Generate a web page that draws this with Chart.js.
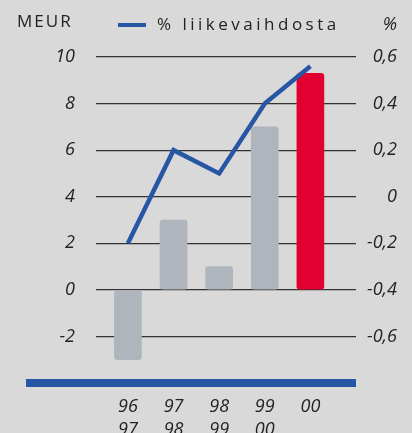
<!DOCTYPE html>
<html>
<head>
<meta charset="utf-8">
<style>
  html, body { margin: 0; padding: 0; background: #d9d9d9; }
  #wrap { width: 412px; height: 433px; }
</style>
<script src="https://cdn.jsdelivr.net/npm/chart.js@4/dist/chart.umd.min.js"></script>
</head>
<body>
<div id="wrap"><canvas id="c" width="412" height="433"></canvas></div>
<script>
// data
const periods = [['96', '97'], ['97', '98'], ['98', '99'], ['99', '00'], ['00', '']];
const profitMeur = [-3, 3, 1, 7, 9.3];
const pctOfRevenue = [-0.2, 0.2, 0.1, 0.4, 0.56];
const leftTicks = [-2, 0, 2, 4, 6, 8, 10];
const rightTicks = [-0.6, -0.4, -0.2, 0, 0.2, 0.4, 0.6];

const FONT = "'Open Sans', 'DejaVu Sans', sans-serif";
const BLUE = '#2757a4';

function fmtPct(v) {
    const r = Math.round(v * 10) / 10;
    if (r === 0) return '0';
    return r.toFixed(1).replace('.', ',');
}

const decorations = {
    id: 'decorations',
    afterDraw(chart) {
        const ctx = chart.ctx;
        const area = chart.chartArea;
        const yLeft = chart.scales.y;

        // thick blue base bar
        ctx.save();
        ctx.fillStyle = BLUE;
        ctx.fillRect(yLeft.left, area.bottom - 4, area.right - yLeft.left, 8);

        // header texts
        ctx.fillStyle = '#222';
        ctx.textBaseline = 'alphabetic';
        ctx.font = '17px ' + FONT;
        ctx.textAlign = 'left';
        ctx.letterSpacing = '2px';
        ctx.fillText('MEUR', 17, 27);

        ctx.strokeStyle = BLUE;
        ctx.lineWidth = 4;
        ctx.beginPath();
        ctx.moveTo(118, 25);
        ctx.lineTo(146, 25);
        ctx.stroke();

        ctx.letterSpacing = '3.5px';
        ctx.fillText('% liikevaihdosta', 157, 30);

        ctx.letterSpacing = '0px';
        ctx.font = 'italic 18px ' + FONT;
        ctx.textAlign = 'right';
        ctx.fillText('%', 397, 30);
        ctx.restore();
    }
};

const ctx = document.getElementById('c').getContext('2d');
new Chart(ctx, {
    data: {
        datasets: [{
            type: 'line',
            data: pctOfRevenue.map((v, i) => ({ x: i, y: v })),
            yAxisID: 'y2',
            borderColor: BLUE,
            borderWidth: 4.5,
            pointRadius: 0,
            tension: 0,
            order: 0
        }, {
            type: 'bar',
            data: profitMeur.map((v, i) => ({ x: i, y: v })),
            yAxisID: 'y',
            backgroundColor: c => c.dataIndex === profitMeur.length - 1 ? '#e10030' : '#aeb5bc',
            borderRadius: 3,
            borderSkipped: false,
            barThickness: 27,
            order: 1
        }]
    },
    options: {
        responsive: false,
        animation: false,
        layout: { padding: { left: 26, right: 15, top: 57, bottom: 0 } },
        plugins: {
            legend: { display: false },
            tooltip: { enabled: false }
        },
        scales: {
            x: {
                type: 'linear',
                offset: false,
                min: -0.7,
                max: 5.0,
                grid: { display: false, offset: false },
                border: { display: false },
                afterBuildTicks: axis => { axis.ticks = periods.map((p, i) => ({ value: i })); },
                afterFit: axis => { axis.height = 50; },
                ticks: {
                    padding: 5,
                    maxRotation: 0,
                    autoSkip: false,
                    color: '#222',
                    font: { family: FONT, size: 18, style: 'italic', lineHeight: 1.25 },
                    callback: v => periods[v]
                }
            },
            y: {
                position: 'left',
                min: -4,
                max: 10,
                afterBuildTicks: axis => { axis.ticks = leftTicks.map(v => ({ value: v })); },
                afterFit: axis => { axis.width = 70; },
                grid: { color: '#333', lineWidth: 1.2, drawTicks: false },
                border: { display: false },
                ticks: {
                    padding: 21,
                    color: '#222',
                    font: { family: FONT, size: 18, style: 'italic' },
                    callback: v => String(v)
                }
            },
            y2: {
                position: 'right',
                min: -0.8,
                max: 0.6,
                afterBuildTicks: axis => { axis.ticks = rightTicks.map(v => ({ value: v })); },
                afterFit: axis => { axis.width = 41; },
                grid: { display: false, drawTicks: false },
                border: { display: false },
                ticks: {
                    padding: 5,
                    crossAlign: 'far',
                    color: '#222',
                    font: { family: FONT, size: 18, style: 'italic' },
                    callback: v => fmtPct(v)
                }
            }
        }
    },
    plugins: [decorations]
});
</script>
</body>
</html>
